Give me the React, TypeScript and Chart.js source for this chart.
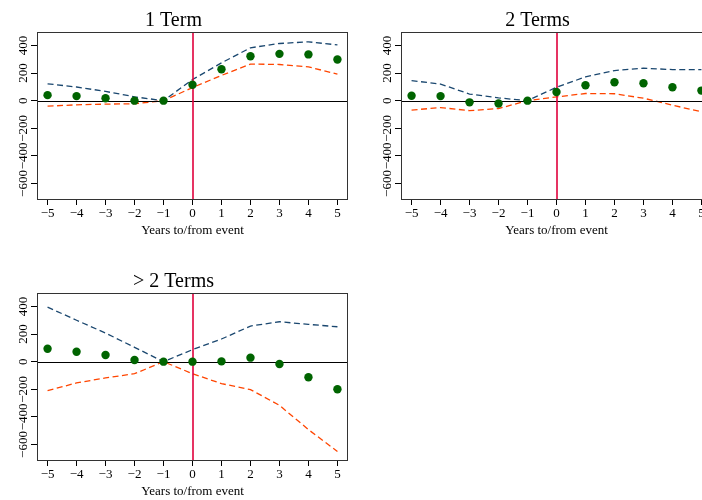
import React, { useEffect, useRef } from "react";
import { Chart, registerables } from "chart.js";
Chart.register(...registerables);

const years = [-5, -4, -3, -2, -1, 0, 1, 2, 3, 4, 5];
const yTicks = [-600, -400, -200, 0, 200, 400];
const xTitle = "Years to/from event";

const title1 = "1 Term";
const est1 = [40, 33, 18, 0, 0, 115, 228, 322, 339, 335, 298];
const upper1 = [122, 99, 67, 28, 0, 153, 274, 383, 414, 426, 404];
const lower1 = [-40, -30, -25, -22, 0, 95, 183, 265, 262, 245, 192];

const title2 = "2 Terms";
const est2 = [36, 33, -12, -20, 0, 63, 112, 133, 126, 97, 73];
const upper2 = [145, 120, 48, 20, 0, 97, 172, 218, 235, 225, 225];
const lower2 = [-68, -50, -72, -57, 0, 27, 52, 50, 18, -33, -80];

const title3 = "> 2 Terms";
const est3 = [94, 72, 48, 12, 0, 0, 2, 29, -17, -113, -200];
const upper3 = [395, 300, 207, 104, 0, 87, 164, 258, 289, 270, 253];
const lower3 = [-210, -154, -118, -87, 0, -87, -159, -202, -316, -492, -650];

const SERIF = "'Liberation Serif', 'Times New Roman', serif";
const GREEN = "#006400";
const BLUE = "#1a476f";
const ORANGE = "#ff4500";
const RED = "#e0003c";

const fmt = (v: number) => (v < 0 ? "\u2212" + Math.abs(v) : String(v));

function drawRefLines(chart: any) {
  const { ctx, chartArea } = chart;
  const xs = chart.scales.x;
  const ys = chart.scales.y;
  ctx.save();
  ctx.setLineDash([]);
  ctx.lineWidth = 1;
  const y0 = Math.round(ys.getPixelForValue(0)) + 0.5;
  ctx.strokeStyle = "#000000";
  ctx.beginPath();
  ctx.moveTo(chartArea.left, y0);
  ctx.lineTo(chartArea.right, y0);
  ctx.stroke();
  const x0 = Math.round(xs.getPixelForValue(0));
  ctx.lineWidth = 1.6;
  ctx.strokeStyle = RED;
  ctx.beginPath();
  ctx.moveTo(x0, chartArea.top);
  ctx.lineTo(x0, chartArea.bottom);
  ctx.stroke();
  ctx.restore();
}

const panelPlugin = {
  id: "panelDecor",
  beforeDatasetDraw(chart: any, args: any) {
    if (args.index === 0) drawRefLines(chart);
  },
  afterDraw(chart: any) {
    const { ctx, chartArea } = chart;
    const ys = chart.scales.y;
    ctx.save();
    ctx.setLineDash([]);
    ctx.strokeStyle = "#333333";
    ctx.lineWidth = 1;
    ctx.strokeRect(
      Math.round(chartArea.left) - 0.5,
      Math.round(chartArea.top) - 0.5,
      Math.round(chartArea.right - chartArea.left) + 1,
      Math.round(chartArea.bottom - chartArea.top) + 1
    );
    ctx.fillStyle = "#000";
    ctx.font = `13px ${SERIF}`;
    ctx.textAlign = "center";
    ctx.textBaseline = "middle";
    for (const v of yTicks) {
      const py = ys.getPixelForValue(v);
      ctx.save();
      ctx.translate(chartArea.left - 14.5, py);
      ctx.rotate(-Math.PI / 2);
      ctx.fillText(fmt(v), 0, 0);
      ctx.restore();
    }
    ctx.restore();
  },
};

function Panel(props: {
  title: string;
  est: number[];
  upper: number[];
  lower: number[];
  left: number;
  top: number;
}) {
  const ref = useRef<HTMLCanvasElement | null>(null);
  useEffect(() => {
    if (!ref.current) return;
    const chart = new Chart(ref.current, {
      type: "scatter",
      data: {
        datasets: [
          {
            type: "scatter",
            data: years.map((x, i) => ({ x, y: props.est[i] })),
            pointRadius: 4.2,
            pointBackgroundColor: GREEN,
            pointBorderColor: GREEN,
            pointBorderWidth: 0,
          },
          {
            type: "line",
            data: years.map((x, i) => ({ x, y: props.upper[i] })),
            borderColor: BLUE,
            borderWidth: 1.3,
            borderDash: [6, 3.5],
            pointRadius: 0,
            fill: false,
            tension: 0,
          },
          {
            type: "line",
            data: years.map((x, i) => ({ x, y: props.lower[i] })),
            borderColor: ORANGE,
            borderWidth: 1.3,
            borderDash: [6, 3.5],
            pointRadius: 0,
            fill: false,
            tension: 0,
          },
        ],
      } as any,
      options: {
        animation: false,
        responsive: false,
        devicePixelRatio: 1,
        layout: { padding: { left: 0, right: 13, top: 0, bottom: 0 } },
        plugins: {
          legend: { display: false },
          tooltip: { enabled: false },
          title: {
            display: true,
            text: props.title,
            color: "#000",
            font: { family: SERIF, size: 20, weight: "normal", lineHeight: 1.2 },
            padding: { top: 9, bottom: 0 },
          },
        },
        scales: {
          x: {
            type: "linear",
            min: -5.33,
            max: 5.33,
            afterBuildTicks: (s: any) => {
              s.ticks = years.map((v) => ({ value: v }));
            },
            afterFit: (s: any) => {
              s.height = 51;
            },
            grid: { drawOnChartArea: false, drawTicks: true, tickLength: 6, color: "#000" },
            border: { display: false },
            ticks: {
              color: "#000",
              font: { family: SERIF, size: 13 },
              padding: 1,
              autoSkip: false,
              maxRotation: 0,
              callback: (v: any) => fmt(Number(v)),
            },
            title: {
              display: true,
              text: xTitle,
              color: "#000",
              font: { family: SERIF, size: 13, lineHeight: 1.2 },
              padding: { top: 0, bottom: 12 },
            },
          },
          y: {
            type: "linear",
            min: -712,
            max: 490,
            afterBuildTicks: (s: any) => {
              s.ticks = yTicks.map((v) => ({ value: v }));
            },
            afterFit: (s: any) => {
              s.width = 38;
            },
            grid: { drawOnChartArea: false, drawTicks: true, tickLength: 7, color: "#000" },
            border: { display: false },
            ticks: { display: false, autoSkip: false },
          },
        },
      } as any,
      plugins: [panelPlugin],
    });
    return () => chart.destroy();
  }, []);
  return (
    <canvas
      ref={ref}
      width={360}
      height={250}
      style={{ position: "absolute", left: props.left, top: props.top, width: 360, height: 250 }}
    />
  );
}

export default function App() {
  return (
    <div
      style={{
        position: "fixed",
        left: 0,
        top: 0,
        width: 702,
        height: 500,
        overflow: "hidden",
        background: "#fff",
      }}
    >
      <Panel title={title1} est={est1} upper={upper1} lower={lower1} left={0} top={0} />
      <Panel title={title2} est={est2} upper={upper2} lower={lower2} left={364} top={0} />
      <Panel title={title3} est={est3} upper={upper3} lower={lower3} left={0} top={261} />
    </div>
  );
}
